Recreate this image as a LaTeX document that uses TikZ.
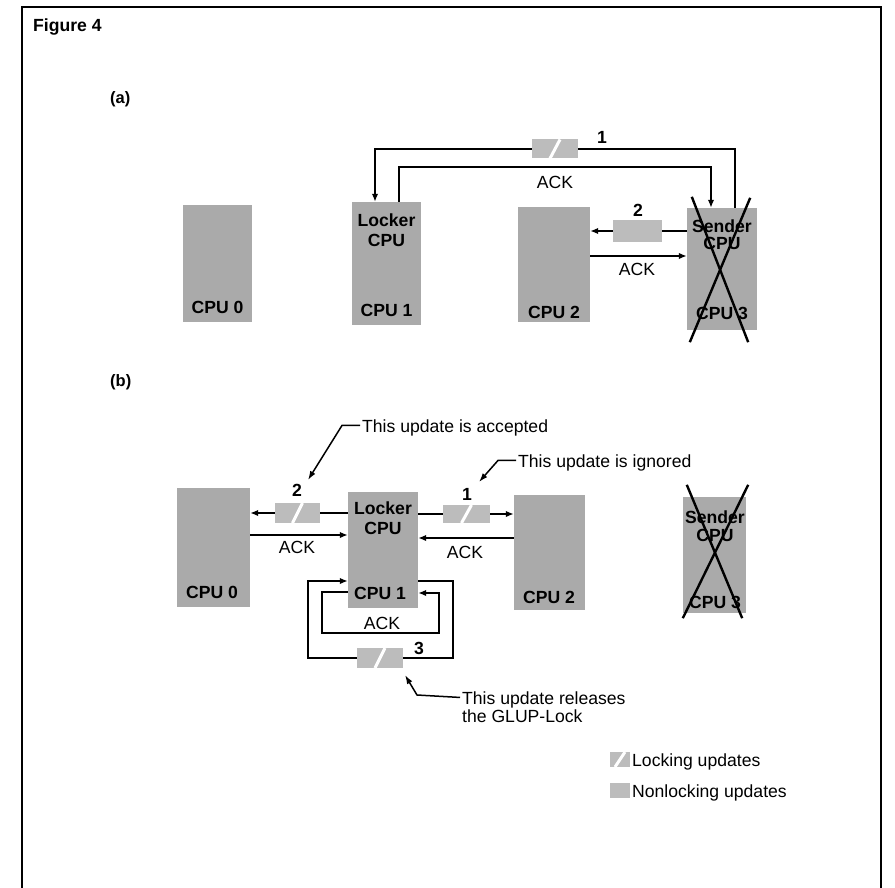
\documentclass[tikz,border=0pt]{standalone}
\usepackage{fontspec}
\setmainfont{Liberation Sans}
\usetikzlibrary{arrows.meta}
\definecolor{cpugray}{RGB}{170,170,170}
\definecolor{updgray}{RGB}{188,188,188}
\tikzset{
  cpubox/.style={fill=cpugray, draw=none, inner sep=0pt},
  txt/.style={inner sep=0pt, anchor=base, font=\fontsize{17.6}{20}\selectfont},
  ltxt/.style={txt, anchor=base west},
  btxt/.style={txt, font=\fontsize{17.6}{20}\selectfont\bfseries},
  ln/.style={line width=1.8pt},
  arr/.style={line width=1.8pt, -{Latex[length=8pt,width=6.5pt]}},
  lead/.style={line width=1.5pt, -{Latex[length=9pt,width=6pt]}},
  upd/.style={fill=updgray, draw=none, inner sep=0pt, minimum width=46pt, minimum height=19pt},
  lockupd/.style={upd, path picture={\draw[white,line width=3pt]
      ([xshift=-5pt]path picture bounding box.south) -- ([xshift=5pt]path picture bounding box.north);}},
  xline/.style={line width=2.4pt},
}
\begin{document}
\begin{tikzpicture}[x=1pt,y=-1pt]
\useasboundingbox (0,0) rectangle (895,888);
% frame
\draw[line width=1.3pt] (22,888) -- (22,7) -- (881,7) -- (881,888);
\node[ltxt, font=\fontsize{17.6}{20}\selectfont\bfseries] (fig) at (33,32) {Figure 4};
\node[ltxt, font=\fontsize{16.5}{20}\selectfont\bfseries] (pa) at (110,104) {(a)};
\node[ltxt, font=\fontsize{16.5}{20}\selectfont\bfseries] (pb) at (110,386) {(b)};

% ---------------- (a) ----------------
\node[cpubox, minimum width=69pt, minimum height=117pt] (cpu0a) at (217.5,263.5) {};
\node[cpubox, minimum width=69pt, minimum height=123pt] (cpu1a) at (386.5,263.5) {};
\node[cpubox, minimum width=72pt, minimum height=115pt] (cpu2a) at (554,264.5) {};
\node[cpubox, minimum width=70pt, minimum height=122pt] (cpu3a) at (722,269) {};

\node[btxt] (l0a) at (217.5,313) {CPU 0};
\node[btxt] (lk1a) at (386.5,226) {Locker};
\node[btxt] (lk2a) at (386.5,246) {CPU};
\node[btxt] (l1a) at (386.5,316) {CPU 1};
\node[btxt] (l2a) at (554,318) {CPU 2};
\node[btxt] (s1a) at (722,233) {Sender};
\node[btxt] (s2a) at (722,249) {CPU};
\node[btxt] (l3a) at (722,319) {CPU 3};
\draw[xline] ([shift={(5,-11)}]cpu3a.north west) -- ([shift={(-9,12)}]cpu3a.south east);
\draw[xline] ([shift={(-7,-10)}]cpu3a.north east) -- ([shift={(3,12)}]cpu3a.south west);

% update 1 (a)
\node[lockupd] (a1) at (555,149) {};
\node[btxt] (n1a) at (602,144) {1};
\draw[ln] ([xshift=13pt]cpu3a.north) |- (a1);
\draw[arr] (a1) -| ([xshift=-11.5pt]cpu1a.north);
% ACK top (a)
\coordinate (ka) at (555,167);
\draw[arr] ([xshift=12.5pt]cpu1a.north) |- (ka) -| ([xshift=-11pt]cpu3a.north);
\node[txt] (ack1a) at (555,189) {ACK};
% update 2 (a)
\node[upd, minimum width=49pt, minimum height=22pt] (a2) at (637.5,231) {};
\node[btxt] (n2a) at (638,216) {2};
\draw[ln] (cpu3a.west |- a2) -- (a2);
\draw[arr] (a2) -- (cpu2a.east |- a2);
\coordinate (ka2) at (637,256);
\draw[arr] (cpu2a.east |- ka2) -- (cpu3a.west |- ka2);
\node[txt] (ack2a) at (637,276) {ACK};

% ---------------- (b) ----------------
\node[cpubox, minimum width=73pt, minimum height=119pt] (cpu0b) at (213.5,547.5) {};
\node[cpubox, minimum width=70pt, minimum height=116pt] (cpu1b) at (383,550) {};
\node[cpubox, minimum width=71pt, minimum height=115pt] (cpu2b) at (549.5,552.5) {};
\node[cpubox, minimum width=63pt, minimum height=116pt] (cpu3b) at (714.5,555) {};

\node[btxt] (l0b) at (212,598) {CPU 0};
\node[btxt] (lk1b) at (383,514) {Locker};
\node[btxt] (lk2b) at (383,534) {CPU};
\node[btxt] (l1b) at (380,599) {CPU 1};
\node[btxt] (l2b) at (549,603) {CPU 2};
\node[btxt] (s1b) at (715,523) {Sender};
\node[btxt] (s2b) at (715,541) {CPU};
\node[btxt] (l3b) at (715,608) {CPU 3};
\draw[xline] ([shift={(4,-12)}]cpu3b.north west) -- ([shift={(-4,5)}]cpu3b.south east);
\draw[xline] ([shift={(2,-12)}]cpu3b.north east) -- ([shift={(0,5)}]cpu3b.south west);

% update 2 (b)
\node[lockupd, minimum width=45pt, minimum height=20pt] (b2) at (297.5,513) {};
\node[btxt] (n2b) at (297,496) {2};
\draw[ln] (cpu1b.west |- b2) -- (b2);
\draw[arr] (b2) -- (cpu0b.east |- b2);
\coordinate (kb0) at (297,535);
\draw[arr] (cpu0b.east |- kb0) -- (cpu1b.west |- kb0);
\node[txt] (ack0b) at (297,553) {ACK};
% update 1 (b)
\node[lockupd, minimum width=47pt, minimum height=18pt] (b1) at (466.5,514) {};
\node[btxt] (n1b) at (467,500) {1};
\draw[ln] (cpu1b.east |- b1) -- (b1);
\draw[arr] (b1) -- (cpu2b.west |- b1);
\coordinate (kb2) at (465,538);
\draw[arr] (cpu2b.west |- kb2) -- (cpu1b.east |- kb2);
\node[txt] (ack2b) at (465,558) {ACK};
% outer loop, update 3
\node[lockupd, minimum width=46pt, minimum height=20pt] (b3) at (380,658) {};
\node[btxt] (n3b) at (419,654) {3};
\coordinate (oR) at (453,581);
\coordinate (oL) at (308,581);
\draw[ln] (cpu1b.east |- oR) -- (oR) |- (b3);
\draw[arr] (b3) -| (oL) -- (cpu1b.west |- oL);
% inner loop ACK
\coordinate (iT) at (322,592);
\coordinate (iL) at (322,633);
\coordinate (iR) at (439,593);
\draw[arr] (cpu1b.west |- iT) -- (iT) -- (iL) -| (iR) -- (cpu1b.east |- iR);
\node[txt] (ack3b) at (382,629) {ACK};

% annotations
\node[ltxt] (acc) at (362,432) {This update is accepted};
\coordinate (accTip) at (308,480);
\draw[lead] ([xshift=-2pt,yshift=2pt]acc.west) -- ++(-18,0) -- (accTip);
\node[ltxt] (ign) at (518,467) {This update is ignored};
\coordinate (ignTip) at (479,482);
\draw[lead] ([xshift=-2pt,yshift=2pt]ign.west) -- ++(-18,0) -- (ignTip);
\node[ltxt] (rel1) at (462,704) {This update releases};
\node[ltxt] (rel2) at (462,722) {the GLUP-Lock};
\coordinate (relTip) at (405,675);
\draw[lead] ([xshift=-2pt,yshift=2pt]rel1.west) -- (417,695) -- (relTip);

% legend
\node[lockupd, minimum width=20pt, minimum height=15pt] (legL) at (620,759.5) {};
\node[ltxt] (legLt) at (632,766) {Locking updates};
\node[upd, minimum width=20pt, minimum height=15pt] (legN) at (620,790.5) {};
\node[ltxt] (legNt) at (632,797) {Nonlocking updates};
\end{tikzpicture}
\end{document}
